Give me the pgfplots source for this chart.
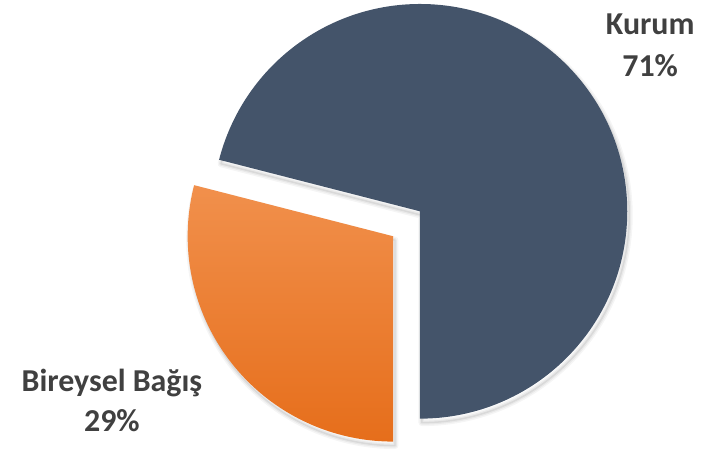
\documentclass[border=0pt]{standalone}
\usepackage{pgfplots}
\pgfplotsset{compat=1.18}
\usepackage{pgfplotstable}
\usepackage{fontspec}
\setmainfont{Carlito}
\definecolor{kurum}{HTML}{44546A}
\definecolor{orTop}{HTML}{F1904C}
\definecolor{orBot}{HTML}{E66E1B}
\definecolor{lbl}{HTML}{404040}
\pgfplotstableread{
name value
Kurum 71
Bireysel 29
}\pietable
\begin{document}
\pgfplotstablegetelem{0}{value}\of\pietable \let\vA\pgfplotsretval
\pgfplotstablegetelem{1}{value}\of\pietable \let\vB\pgfplotsretval
\pgfmathsetmacro\splitang{270-\vB*3.6}
\begin{tikzpicture}
\begin{axis}[x=1pt,y=1pt,xmin=0,xmax=704,ymin=0,ymax=455,hide axis,clip=false,anchor=south west,at={(0,0)}]
% soft shadows
\draw[black,line width=7pt,opacity=0.04,line join=round] (axis cs:421,239) -- +(-90:208pt) arc[start angle=-90,end angle=\splitang,radius=208pt] -- cycle;
\draw[black,line width=4pt,opacity=0.05,line join=round] (axis cs:421,239) -- +(-90:208pt) arc[start angle=-90,end angle=\splitang,radius=208pt] -- cycle;
\draw[black,line width=1.5pt,opacity=0.07,line join=round] (axis cs:421,239) -- +(-90:208pt) arc[start angle=-90,end angle=\splitang,radius=208pt] -- cycle;
\draw[black,line width=7pt,opacity=0.04,line join=round] (axis cs:394,214) -- +(\splitang:206pt) arc[start angle=\splitang,end angle=270,radius=206pt] -- cycle;
\draw[black,line width=4pt,opacity=0.05,line join=round] (axis cs:394,214) -- +(\splitang:206pt) arc[start angle=\splitang,end angle=270,radius=206pt] -- cycle;
\draw[black,line width=1.5pt,opacity=0.07,line join=round] (axis cs:394,214) -- +(\splitang:206pt) arc[start angle=\splitang,end angle=270,radius=206pt] -- cycle;
% Kurum slice
\fill[kurum] (axis cs:419,243) -- +(-90:208pt) arc[start angle=-90,end angle=\splitang,radius=208pt] -- cycle;
% Bireysel slice (exploded)
\shade[top color=orTop,bottom color=orBot] (axis cs:392,218) -- +(\splitang:206pt) arc[start angle=\splitang,end angle=270,radius=206pt] -- cycle;
% labels
\node[anchor=base,text=lbl,font=\fontsize{32}{38}\selectfont\bfseries] at (axis cs:650,420) {Kurum};
\node[anchor=base,text=lbl,font=\fontsize{32}{38}\selectfont\bfseries] at (axis cs:650,378) {\vA\%};
\node[anchor=base,text=lbl,font=\fontsize{32}{38}\selectfont\bfseries] at (axis cs:110,62) {Bireysel Bağış};
\node[anchor=base,text=lbl,font=\fontsize{32}{38}\selectfont\bfseries] at (axis cs:110,22) {\vB\%};
\end{axis}
\pgfresetboundingbox
\path (0,0) rectangle (704pt,455pt);
\end{tikzpicture}
\end{document}
